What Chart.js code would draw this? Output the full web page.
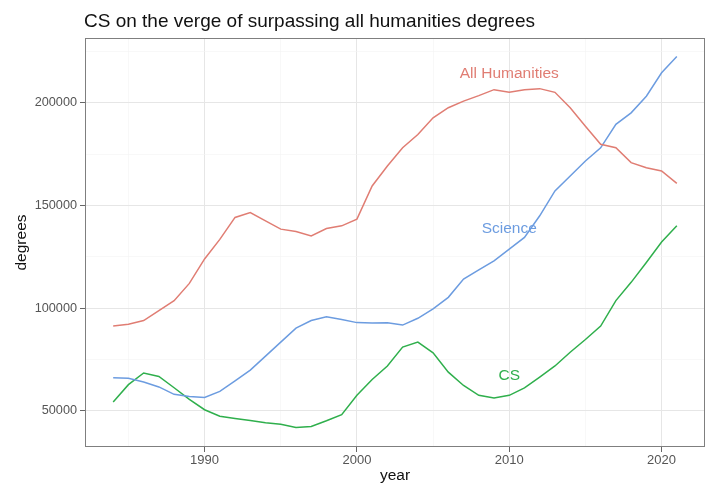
<!DOCTYPE html>
<html>
<head>
<meta charset="utf-8">
<script src="https://cdn.jsdelivr.net/npm/chart.js@4"></script>
<style>
html,body{margin:0;padding:0;background:#fff;}
#wrap{width:720px;height:493px;position:relative;}
</style>
</head>
<body>
<div id="wrap"><canvas id="c" width="720" height="493"></canvas></div>
<script>
// ---- data ----
const years = [1984,1985,1986,1987,1988,1989,1990,1991,1992,1993,1994,1995,1996,1997,1998,1999,2000,2001,2002,2003,2004,2005,2006,2007,2008,2009,2010,2011,2012,2013,2014,2015,2016,2017,2018,2019,2020,2021];
const humanities = [91400,92200,94000,98800,103700,112100,124000,133500,144200,146600,142500,138500,137400,135200,138800,140100,143400,159500,169200,178100,184600,192700,197600,200800,203500,206400,205100,206400,206900,205100,197600,188600,179800,178100,170900,168400,166800,160800];
const science = [66200,65900,64100,61700,58100,57000,56600,59500,64600,69900,76700,83500,90300,94000,95900,94500,93000,92800,92900,91800,95100,99700,105300,114200,118700,123100,128800,134500,145000,157100,164400,171700,178100,189500,195100,203200,214600,222600];
const cs = [54400,62800,68500,66800,61300,55600,50600,47400,46300,45300,44200,43500,41900,42400,45200,48200,57600,65300,71900,81100,83500,78300,68900,62400,57600,56300,57600,61200,66500,71900,78600,84800,91300,103700,112600,122300,132200,140100];
const seriesNames = ['All Humanities','Science','CS'];
const labelX = [2010,2010,2010];
const labelY = [214700,139000,67600];
const xTicks = [1985,1990,1995,2000,2005,2010,2015,2020];
const xMajor = [1990,2000,2010,2020];
const yTicks = [50000,75000,100000,125000,150000,175000,200000,225000];
const yMajor = [50000,100000,150000,200000];
const titleText = 'CS on the verge of surpassing all humanities degrees';
const xTitle = 'year';
const yTitle = 'degrees';

const colors = ['#E07D73','#6C9CE0','#2FAF4C'];
const FONT = "'Liberation Sans', Arial, Helvetica, sans-serif";

const labelPlugin = {
  id: 'labels',
  afterDatasetsDraw(chart) {
    const {ctx, scales:{x,y}, chartArea:a} = chart;
    ctx.save();
    ctx.font = '15.5px ' + FONT;
    ctx.textAlign = 'center';
    ctx.textBaseline = 'middle';
    seriesNames.forEach((n,i)=>{
      ctx.fillStyle = colors[i];
      ctx.fillText(n, x.getPixelForValue(labelX[i]), y.getPixelForValue(labelY[i]) + 1);
    });
    ctx.strokeStyle = '#7f7f7f';
    ctx.lineWidth = 1;
    ctx.strokeRect(Math.round(a.left)+0.5, Math.round(a.top)+0.5, Math.round(a.right-a.left)-1, Math.round(a.bottom-a.top)-1);
    ctx.fillStyle = '#111';
    ctx.font = '19px ' + FONT;
    ctx.textAlign = 'left';
    ctx.textBaseline = 'middle';
    ctx.fillText(titleText, a.left - 1, 22);
    ctx.restore();
  }
};

function gridColor(major){ return (c)=> major.includes(c.tick && c.tick.value) ? '#E6E6E6' : '#F3F3F3'; }
function gridWidth(major){ return (c)=> major.includes(c.tick && c.tick.value) ? 1 : 0.6; }
function tickCol(major){ return (c)=> major.includes(c.tick && c.tick.value) ? '#666' : 'rgba(0,0,0,0)'; }

new Chart(document.getElementById('c'), {
  type: 'line',
  data: {
    labels: years,
    datasets: [
      {label: seriesNames[0], data: years.map((yr,i)=>({x:yr,y:humanities[i]})), borderColor: colors[0]},
      {label: seriesNames[1], data: years.map((yr,i)=>({x:yr,y:science[i]})), borderColor: colors[1]},
      {label: seriesNames[2], data: years.map((yr,i)=>({x:yr,y:cs[i]})), borderColor: colors[2]}
    ].map(d=>Object.assign(d,{borderWidth:1.5, pointRadius:0, tension:0, fill:false}))
  },
  options: {
    responsive: false,
    animation: false,
    devicePixelRatio: 1,
    layout: {padding: {left:0, right:15, top:38, bottom:0}},
    plugins: {legend:{display:false}, tooltip:{enabled:false}, title:{display:false}},
    scales: {
      x: {
        type: 'linear', min: 1982.15, max: 2022.85,
        afterBuildTicks: (s)=>{ s.ticks = xTicks.map(v=>({value:v})); },
        afterFit: (s)=>{ s.height = 46; },
        border: {display:false},
        grid: {color: gridColor(xMajor), lineWidth: gridWidth(xMajor), tickColor: tickCol(xMajor), tickLength: 5, drawTicks: true},
        ticks: {
          color: '#555', font: {family: FONT, size: 13}, padding: 1, maxRotation: 0, autoSkip: false,
          callback: (v)=> xMajor.includes(v) ? String(v) : ''
        },
        title: {display: true, text: xTitle, color: '#111', font: {family: FONT, size: 15.5}, padding: {top:0, bottom:8}}
      },
      y: {
        type: 'linear', min: 32450, max: 231550,
        afterBuildTicks: (s)=>{ s.ticks = yTicks.map(v=>({value:v})); },
        afterFit: (s)=>{ s.width = 85; },
        border: {display:false},
        grid: {color: gridColor(yMajor), lineWidth: gridWidth(yMajor), tickColor: tickCol(yMajor), tickLength: 5},
        ticks: {
          color: '#555', font: {family: FONT, size: 12.7}, padding: 3, autoSkip: false,
          callback: (v)=> yMajor.includes(v) ? String(v) : ''
        },
        title: {display: true, text: yTitle, color: '#111', font: {family: FONT, size: 15.5}, padding: {top:12.5, bottom:0}}
      }
    }
  },
  plugins: [labelPlugin]
});
</script>
</body>
</html>
